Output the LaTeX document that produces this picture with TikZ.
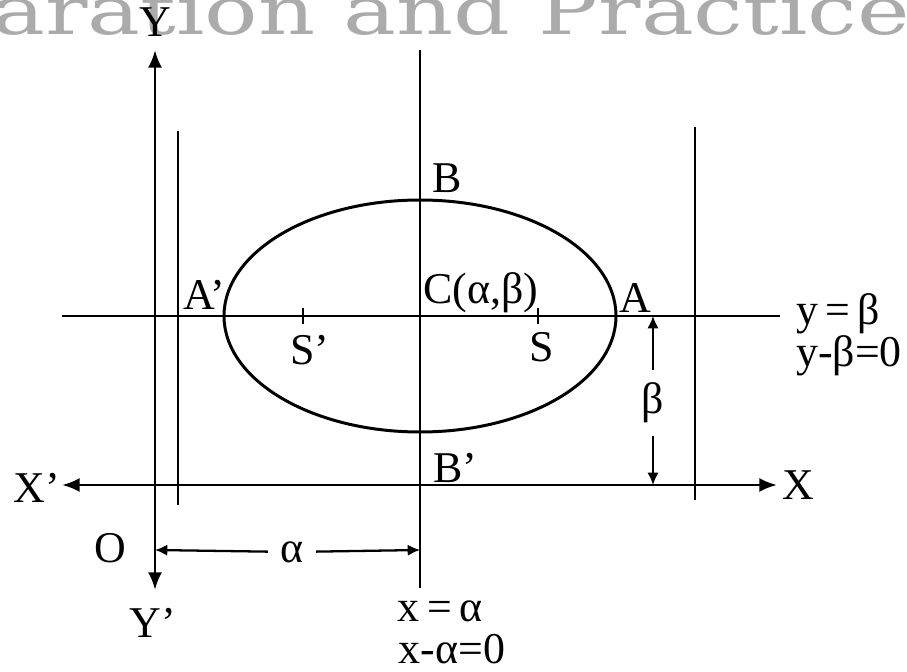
\documentclass[tikz,border=0pt]{standalone}
\usepackage{fontspec}
\setmainfont{Liberation Serif}
\newfontfamily\markfont{DejaVu Serif}
\usetikzlibrary{arrows.meta, calc}

\begin{document}
\begin{tikzpicture}[
  x=0.02cm, y=-0.02cm,
  every node/.style={font=\fontsize{25}{27}\selectfont, inner sep=1pt},
  axis/.style={line width=1.7pt},
  arr/.style={-{Latex[length=10pt, width=8pt]}, line width=1.7pt},
  dimarr/.style={-{Latex[length=7pt, width=6.5pt]}, line width=1.3pt},
  gaplbl/.style={inner sep=7pt}
]
  \useasboundingbox (0,0) rectangle (907,672);

  %% Heading left over from the page
  \node[font=\markfont\fontsize{38}{38}\selectfont, text=black!33,
        anchor=base west, inner sep=0pt, xscale=1.33] (mark) at (-8,35)
        {aration and Practice};

  %% Points
  \coordinate (O)      at (155,485);
  \coordinate (C)      at (420,316);
  \coordinate (ytop)   at (155,50);
  \coordinate (ybot)   at (155,590);
  \coordinate (xleft)  at (62,485);
  \coordinate (xright) at (777,485);
  \coordinate (bleft)  at (62,316);
  \coordinate (bright) at (780,316);
  \coordinate (atop)   at (420,50);
  \coordinate (abot)   at (420,588);
  \coordinate (d1top)  at (178,131);
  \coordinate (d1bot)  at (178,505);
  \coordinate (d2top)  at (695,127);
  \coordinate (d2bot)  at (695,500);
  \coordinate (Sp)     at (303,316);
  \coordinate (S)      at (538,316);
  \coordinate (betatop) at (653,316);
  \coordinate (betabot) at (653,485);
  \coordinate (alphal)  at (155,550);
  \coordinate (alphar)  at (420,550);

  %% Axes
  \draw[arr] (O) -- (ytop);
  \draw[arr] (O) -- (ybot);
  \draw[arr] (O) -- (xleft);
  \draw[arr] (O) -- (xright);

  %% Lines through the centre
  \draw[axis] (bleft) -- (bright);
  \draw[axis] (atop) -- (abot);

  %% Directrices
  \draw[axis] (d1top) -- (d1bot);
  \draw[axis] (d2top) -- (d2bot);

  %% Ellipse
  \draw[axis] (C) ellipse [x radius=196, y radius=116];

  %% Foci
  \draw[axis] ($(Sp)+(0,-8)$) -- ($(Sp)+(0,8)$);
  \draw[axis] ($(S)+(0,-8)$) -- ($(S)+(0,8)$);

  %% Labels
  \node (lblY)   at (155,22)  {Y};
  \node (lblYp)  at (153,623) {Y’};
  \node (lblXp)  at (37,488)  {X’};
  \node (lblX)   at (798,485) {X};
  \node (lblO)   at (110,548) {O};
  \node (lblB)   at (447,178) {B};
  \node (lblAp)  at (204,295) {A’};
  \node (lblC)   at (481,293) {C(α,β)};
  \node (lblA)   at (635,298) {A};
  \node (lblSp)  at (310,350) {S’};
  \node (lblS)   at (542,347) {S};
  \node (lblBp)  at (455,468) {B’};
  \node[anchor=west] (eqb1) at (794,314) {y\,=\,β};
  \node[anchor=west] (eqb2) at (794,356) {y-β=0};
  \node (eqa1) at (440,611) {x\,=\,α};
  \node (eqa2) at (452,649) {x-α=0};

  %% Distances
  \node[gaplbl] (lblbeta)  at (653,403) {β};
  \draw[dimarr] (lblbeta) -- (betatop);
  \draw[dimarr] (lblbeta) -- (betabot);
  \node[gaplbl] (lblalpha) at (292,552) {α};
  \draw[dimarr] (lblalpha) -- (alphal);
  \draw[dimarr] (lblalpha) -- (alphar);
\end{tikzpicture}
\end{document}
